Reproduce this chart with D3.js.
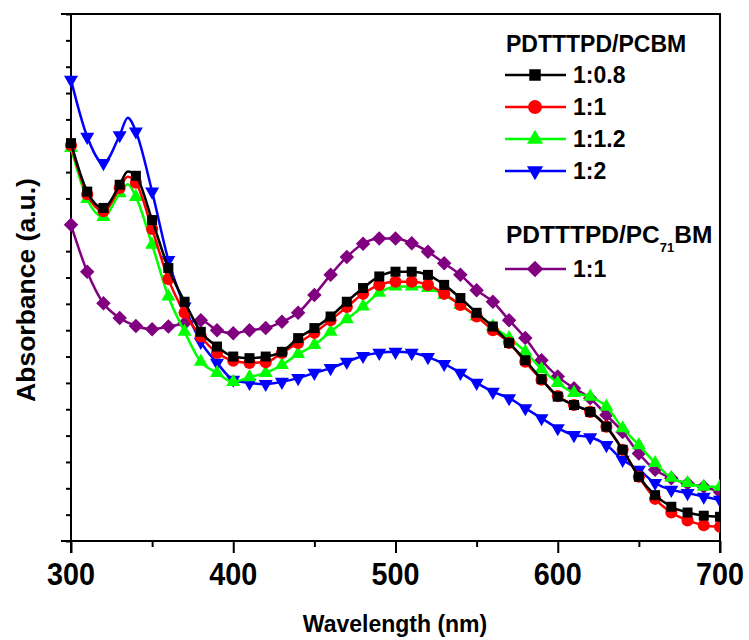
<!DOCTYPE html>
<html>
<head>
<meta charset="utf-8"/>
<title>Absorbance</title>
<script src="https://cdn.jsdelivr.net/npm/d3@7"></script>
<style>
	body { margin: 0; background: #fff; }
	svg text { font-family: "Liberation Sans", Arial, sans-serif; font-weight: bold; fill: #000; }
</style>
</head>
<body>
<div id="chart"></div>
<script>
// wavelength grid (nm), one marker per value
var wavelengths = [300,310,320,330,340,350,360,370,380,390,400,410,420,430,440,450,460,470,480,490,500,
	510,520,530,540,550,560,570,580,590,600,610,620,630,640,650,660,670,680,690,700];

// absorbance (a.u.)
var pcbm08 = [0.755,0.663,0.632,0.676,0.693,0.609,0.518,0.454,0.397,0.369,0.350,0.347,0.350,0.359,0.385,0.404,0.426,0.454,0.480,0.502,0.511,
	0.511,0.505,0.486,0.461,0.433,0.407,0.376,0.343,0.307,0.274,0.258,0.245,0.217,0.173,0.122,0.087,0.065,0.054,0.048,0.046];
var pcbm10 = [0.751,0.658,0.626,0.670,0.680,0.592,0.497,0.433,0.388,0.357,0.342,0.338,0.339,0.357,0.376,0.395,0.419,0.444,0.469,0.486,0.492,
	0.492,0.486,0.469,0.448,0.426,0.400,0.376,0.340,0.306,0.275,0.258,0.245,0.217,0.173,0.122,0.080,0.054,0.039,0.030,0.027];
var pcbm12 = [0.746,0.649,0.615,0.660,0.653,0.562,0.464,0.397,0.340,0.319,0.302,0.311,0.319,0.334,0.355,0.372,0.397,0.421,0.445,0.471,0.483,
	0.483,0.480,0.467,0.448,0.426,0.407,0.385,0.359,0.326,0.300,0.281,0.274,0.255,0.214,0.182,0.148,0.120,0.110,0.103,0.103];
var pcbm20 = [0.875,0.767,0.717,0.770,0.777,0.663,0.533,0.445,0.378,0.338,0.306,0.300,0.298,0.302,0.309,0.319,0.328,0.340,0.351,0.357,0.359,
	0.357,0.349,0.336,0.319,0.300,0.283,0.271,0.252,0.233,0.214,0.201,0.197,0.182,0.154,0.135,0.110,0.097,0.091,0.084,0.078];
var pc71bm10 = [0.600,0.511,0.451,0.423,0.408,0.402,0.407,0.413,0.419,0.400,0.394,0.400,0.404,0.416,0.433,0.467,0.505,0.539,0.564,0.574,0.574,
	0.565,0.549,0.527,0.505,0.476,0.454,0.419,0.385,0.343,0.312,0.290,0.271,0.239,0.207,0.166,0.135,0.119,0.109,0.103,0.093];

// top of the UV band, read between markers at 335 nm
var peakWavelength = 335;
var peakValues = [0.701, 0.691, 0.677, 0.803, null];

var seriesNames = ["1:0.8", "1:1", "1:1.2", "1:2", "1:1"];
var seriesColors = ["#000000", "#ff0000", "#00ff00", "#0000ff", "#800080"];
var seriesShapes = ["square", "circle", "up", "down", "diamond"];
var seriesValues = [pcbm08, pcbm10, pcbm12, pcbm20, pc71bm10];

var xTicks = [300, 400, 500, 600, 700];
var xMinorTicks = [350, 450, 550, 650];

var margin = {top: 14, right: 29, bottom: 99, left: 71};
var W = 749, H = 640;
var width = W - margin.left - margin.right;
var height = H - margin.top - margin.bottom;

var svg = d3.select("#chart").append("svg").attr("width", W).attr("height", H);
var g = svg.append("g").attr("transform", "translate(" + margin.left + "," + margin.top + ")");

var x = d3.scaleLinear().domain([300, 700]).range([0, width]);
var y = d3.scaleLinear().domain([0, 1]).range([height, 0]);

function symbolPath(shape, big) {
	var k = big ? 1.15 : 1;
	if(shape == "square") return d3.symbol(d3.symbolSquare, 100 * k * k)();
	if(shape == "circle") return d3.symbol(d3.symbolCircle, 115 * k * k)();
	if(shape == "up" || shape == "down") return d3.symbol(d3.symbolTriangle, 85 * k * k)();
	return d3.symbol(d3.symbolSquare, 105 * k * k)();
}
function symbolRotate(shape) {
	if(shape == "down") return " rotate(180)";
	if(shape == "diamond") return " rotate(45)";
	return "";
}

// clip on the right edge like the original
svg.append("clipPath").attr("id", "plotClip").append("rect")
	.attr("x", -15).attr("y", -15).attr("width", width + 15).attr("height", height + 30);

// axes
g.append("g").attr("transform", "translate(0," + height + ")")
	.call(d3.axisBottom(x).tickValues(xTicks).tickSize(12).tickFormat(""))
	.call(function(a) { a.select(".domain").remove(); a.selectAll("line").attr("stroke-width", 2); });
g.append("g").attr("transform", "translate(0," + height + ")")
	.call(d3.axisBottom(x).tickValues(xMinorTicks).tickSize(6).tickFormat(""))
	.call(function(a) { a.select(".domain").remove(); a.selectAll("line").attr("stroke-width", 2); });
g.append("g")
	.call(d3.axisLeft(y).tickValues(d3.range(0, 1.0001, 0.05)).tickSize(5).tickFormat(""))
	.call(function(a) { a.select(".domain").remove(); a.selectAll("line").attr("stroke-width", 2); });

g.selectAll(".xlabel").data(xTicks).enter().append("text")
	.attr("class", "xlabel")
	.attr("x", function(d) { return x(d); })
	.attr("y", 571)
	.attr("text-anchor", "middle")
	.attr("font-size", 31)
	.attr("textLength", 48)
	.attr("lengthAdjust", "spacingAndGlyphs")
	.text(function(d) { return d; });

// frame
var frame = g.append("g").attr("stroke", "#000").attr("stroke-width", 2);
frame.append("line").attr("x1", -10).attr("x2", width + 1).attr("y1", 0).attr("y2", 0);
frame.append("line").attr("x1", -10).attr("x2", width + 1).attr("y1", height).attr("y2", height);
frame.append("line").attr("x1", 0).attr("x2", 0).attr("y1", -1).attr("y2", height + 12);
frame.append("line").attr("x1", width).attr("x2", width).attr("y1", -1).attr("y2", height + 12);

// axis titles
svg.append("text").attr("x", 395).attr("y", 632).attr("text-anchor", "middle")
	.attr("font-size", 23).text("Wavelength (nm)");
svg.append("text").attr("transform", "translate(35,290) rotate(-90)").attr("text-anchor", "middle")
	.attr("font-size", 26.5).text("Absorbance (a.u.)");

// series
var line = d3.line().x(function(d) { return x(d[0]); }).y(function(d) { return y(d[1]); })
	.curve(d3.curveMonotoneX);
var plot = g.append("g").attr("clip-path", "url(#plotClip)");

// purple drawn first, then blue, green, red, black on top
[4, 3, 2, 1, 0].forEach(function(i) {
	var vals = seriesValues[i];
	var pts = wavelengths.map(function(w, j) { return [w, vals[j]]; });
	var linePts = pts.slice();
	if(peakValues[i] != null) {
		linePts.push([peakWavelength, peakValues[i]]);
		linePts.sort(function(a, b) { return a[0] - b[0]; });
	}
	plot.append("path").datum(linePts)
		.attr("fill", "none").attr("stroke", seriesColors[i]).attr("stroke-width", 2.5)
		.attr("d", line);
	plot.selectAll(".m" + i).data(pts).enter().append("path")
		.attr("class", "m" + i)
		.attr("d", symbolPath(seriesShapes[i]))
		.attr("transform", function(d) { return "translate(" + x(d[0]) + "," + y(d[1]) + ")" + symbolRotate(seriesShapes[i]); })
		.attr("fill", seriesColors[i]);
});

// legend
var legend = svg.append("g");
legend.append("text").attr("x", 506).attr("y", 52).attr("font-size", 23).text("PDTTTPD/PCBM");
var head2 = legend.append("text").attr("x", 506).attr("y", 243).attr("font-size", 24.5);
head2.append("tspan").text("PDTTTPD/PC");
head2.append("tspan").attr("font-size", 13).attr("dy", 9).text("71");
head2.append("tspan").attr("dy", -9).text("BM");

var legendRows = [75, 107, 139, 171, 269];
seriesNames.forEach(function(name, i) {
	var ly = legendRows[i];
	legend.append("line").attr("x1", 505).attr("x2", 566).attr("y1", ly).attr("y2", ly)
		.attr("stroke", seriesColors[i]).attr("stroke-width", 2.5);
	legend.append("path").attr("d", symbolPath(seriesShapes[i], true))
		.attr("transform", "translate(535," + ly + ")" + symbolRotate(seriesShapes[i]))
		.attr("fill", seriesColors[i]);
	legend.append("text").attr("x", 573).attr("y", ly + 8).attr("font-size", 23).text(name);
});
</script>
</body>
</html>
